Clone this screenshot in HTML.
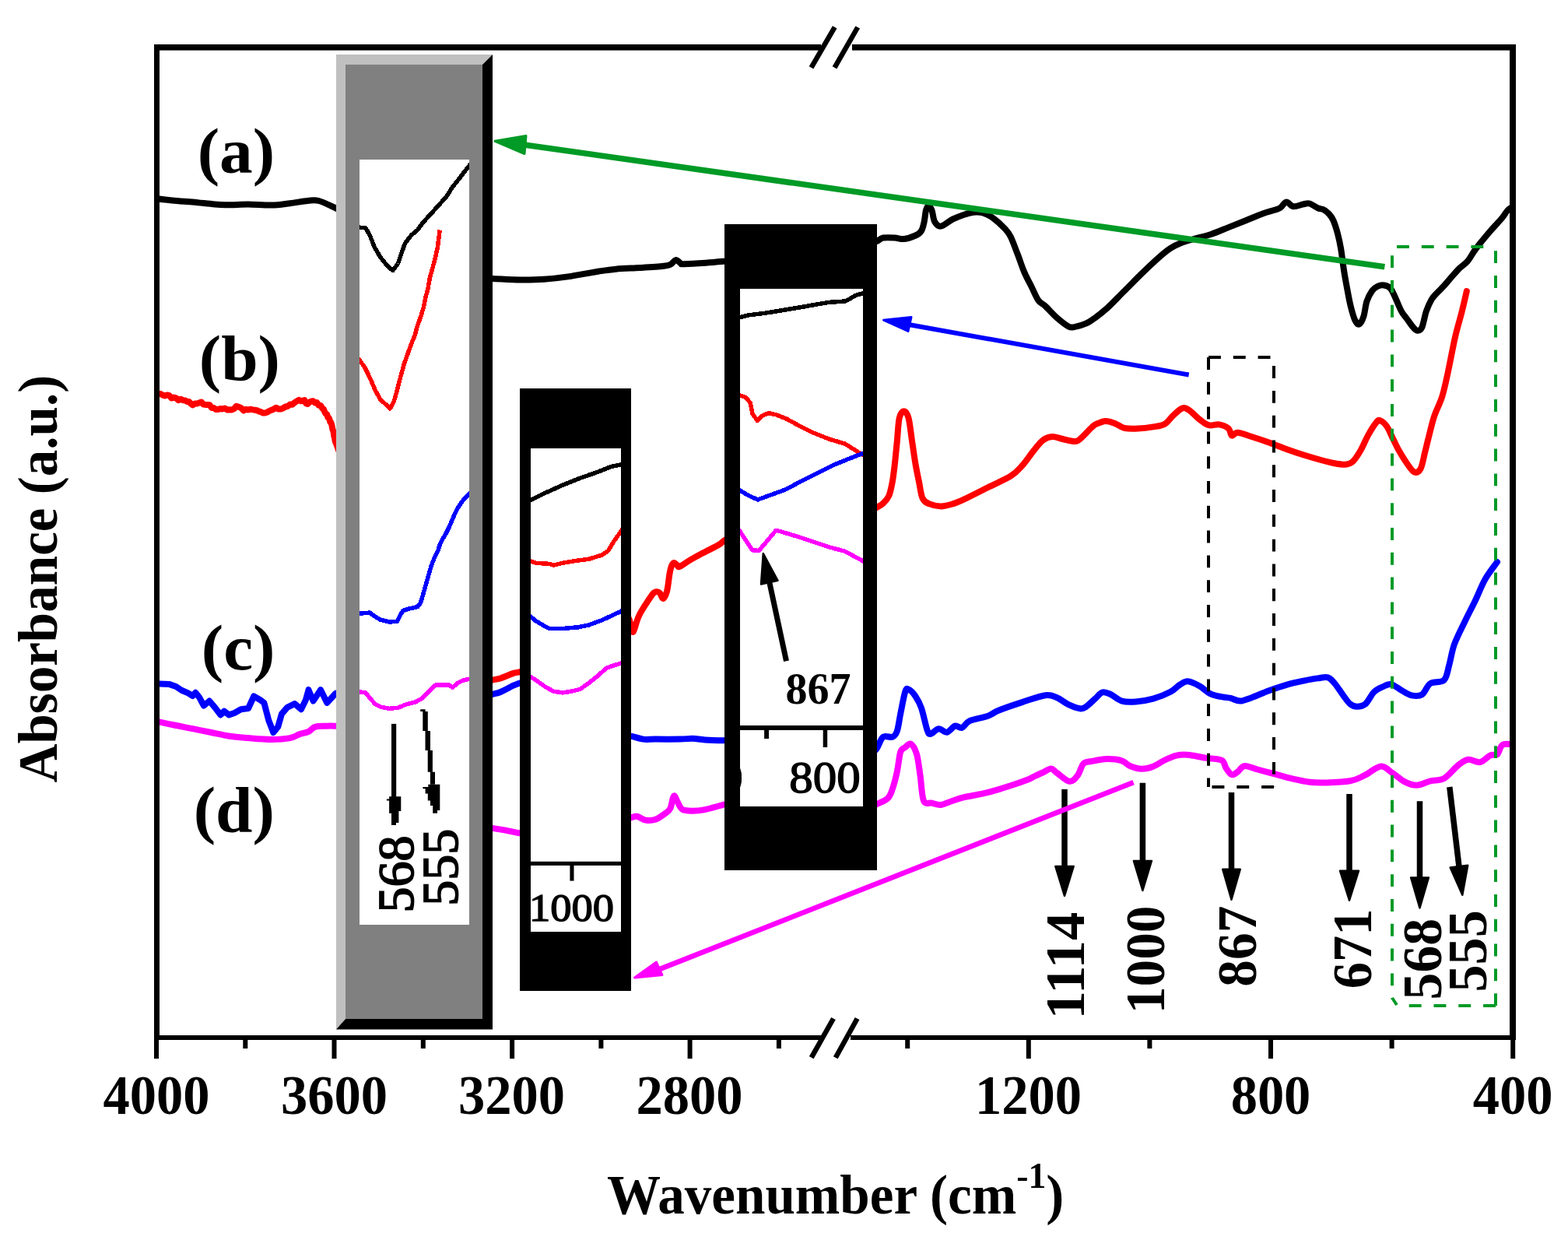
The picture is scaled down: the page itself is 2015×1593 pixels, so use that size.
<!DOCTYPE html><html><head><meta charset="utf-8"><title>FTIR spectra</title><style>html,body{margin:0;padding:0;background:#fff;overflow:hidden}svg{display:block}</style></head><body>
<svg width="2015" height="1593" viewBox="0 0 2015 1593">
<defs>
<clipPath id="cg"><rect x="462" y="205" width="141" height="983"/></clipPath>
<clipPath id="c2"><rect x="682" y="576" width="116" height="621"/></clipPath>
<clipPath id="c3"><rect x="951" y="371" width="158" height="665"/></clipPath>
<clipPath id="cp"><rect x="205" y="65" width="1735" height="1265"/></clipPath>
</defs>
<rect width="2015" height="1593" fill="#fff"/>
<g clip-path="url(#cp)">
<path d="M203.0,255.3 C204.5,255.5 207.5,256.0 212.0,256.5 C216.5,257.0 223.1,257.6 229.8,258.2 C236.5,258.8 244.7,259.3 252.4,260.0 C260.1,260.7 268.1,261.8 276.2,262.4 C284.3,262.9 293.9,263.3 301.0,263.3 C308.1,263.3 311.0,262.3 319.0,262.4 C327.0,262.4 339.9,263.8 348.9,263.6 C357.8,263.4 365.0,262.1 372.7,261.2 C380.4,260.3 389.1,258.5 395.3,258.0 C401.5,257.5 403.5,256.4 409.6,258.0 C415.7,259.6 426.6,265.2 431.7,267.5 C436.8,269.8 438.6,271.2 440.0,272.0" fill="none" stroke="#000000" stroke-width="8" stroke-linejoin="round" stroke-linecap="round"/>
<path d="M625.0,358.0 C626.3,358.0 625.8,357.8 633.0,358.0 C640.2,358.2 657.5,359.4 668.5,359.5 C679.5,359.6 688.8,359.5 699.0,358.8 C709.2,358.1 718.4,357.1 730.0,355.4 C741.6,353.7 758.2,350.4 768.5,348.8 C778.8,347.2 782.6,346.5 791.5,345.7 C800.4,344.9 811.8,344.6 822.0,344.0 C832.2,343.4 846.3,342.6 853.0,341.8 C859.7,341.1 859.4,340.8 862.0,339.5 C864.6,338.2 866.3,334.2 868.5,334.0 C870.7,333.8 873.2,337.6 875.0,338.5 C876.8,339.4 873.7,339.3 879.0,339.2 C884.3,339.1 898.4,338.3 907.0,337.7 C915.6,337.1 925.3,336.2 930.8,335.7 C936.3,335.2 938.5,334.7 940.0,334.5" fill="none" stroke="#000000" stroke-width="8" stroke-linejoin="round" stroke-linecap="round"/>
<path d="M1120.0,311.0 C1121.1,310.8 1124.2,310.9 1126.7,310.0 C1129.2,309.1 1131.1,306.2 1134.9,305.5 C1138.8,304.8 1145.3,305.2 1149.8,305.5 C1154.3,305.8 1157.2,307.5 1161.7,307.0 C1166.2,306.5 1172.9,304.2 1176.6,302.5 C1180.3,300.8 1182.2,299.6 1184.0,296.6 C1185.8,293.6 1186.7,289.2 1187.7,284.7 C1188.7,280.2 1189.1,273.0 1190.0,269.8 C1190.9,266.6 1191.8,265.3 1193.0,265.3 C1194.2,265.3 1196.1,266.6 1197.4,269.8 C1198.8,273.0 1199.1,281.2 1201.1,284.7 C1203.1,288.2 1205.4,291.1 1209.3,290.6 C1213.2,290.1 1219.2,284.2 1224.2,281.7 C1229.2,279.2 1234.6,277.2 1239.1,275.7 C1243.6,274.2 1247.0,273.2 1251.0,272.8 C1255.0,272.4 1258.7,272.3 1262.9,273.5 C1267.1,274.7 1271.6,276.8 1276.3,280.2 C1281.0,283.6 1287.5,289.6 1291.2,293.6 C1294.9,297.6 1296.0,298.6 1298.7,304.0 C1301.4,309.4 1304.6,318.6 1307.6,326.3 C1310.6,334.0 1313.5,343.2 1316.5,350.2 C1319.5,357.1 1322.4,362.1 1325.4,368.0 C1328.4,373.9 1331.4,381.7 1334.4,385.9 C1337.4,390.1 1339.3,389.6 1343.3,393.3 C1347.3,397.0 1353.2,403.9 1358.2,408.2 C1363.2,412.5 1369.4,417.4 1373.1,419.4 C1376.8,421.4 1376.8,420.7 1380.5,420.1 C1384.2,419.5 1390.9,417.7 1395.4,415.7 C1399.9,413.7 1402.9,411.4 1407.4,408.2 C1411.9,405.0 1416.1,402.0 1422.3,396.3 C1428.5,390.6 1437.2,381.4 1444.7,374.0 C1452.2,366.6 1459.6,358.9 1467.0,351.7 C1474.4,344.5 1483.1,336.3 1489.3,330.8 C1495.5,325.3 1499.2,322.1 1504.2,318.9 C1509.2,315.7 1514.1,313.5 1519.1,311.5 C1524.1,309.5 1527.8,308.8 1534.0,307.0 C1540.2,305.2 1548.8,303.5 1556.3,301.0 C1563.8,298.5 1571.2,295.1 1578.7,292.1 C1586.2,289.1 1593.6,286.2 1601.0,283.2 C1608.4,280.2 1617.1,276.4 1623.3,274.2 C1629.5,272.0 1634.5,271.0 1638.2,269.8 C1641.9,268.6 1643.1,268.5 1645.6,266.8 C1648.1,265.1 1650.4,259.6 1653.1,259.4 C1655.8,259.1 1658.3,264.8 1662.0,265.3 C1665.7,265.8 1671.9,262.9 1675.4,262.3 C1678.9,261.7 1679.8,260.6 1682.9,261.5 C1686.0,262.4 1690.9,266.2 1693.9,267.5 C1696.9,268.8 1698.5,268.0 1700.8,269.2 C1703.1,270.4 1705.7,272.4 1707.8,274.7 C1709.9,277.0 1711.6,278.9 1713.4,283.1 C1715.2,287.3 1717.3,293.8 1718.9,299.8 C1720.5,305.8 1721.7,311.1 1723.1,319.2 C1724.5,327.3 1725.8,339.6 1727.2,348.4 C1728.6,357.2 1730.0,364.6 1731.4,372.0 C1732.8,379.4 1734.0,386.4 1735.6,392.9 C1737.2,399.4 1739.2,407.0 1741.1,410.9 C1742.9,414.8 1744.8,417.2 1746.7,416.5 C1748.6,415.8 1750.7,411.7 1752.3,406.8 C1753.9,401.9 1754.6,392.9 1756.4,387.3 C1758.2,381.7 1761.1,376.6 1763.4,373.4 C1765.7,370.1 1767.8,368.9 1770.3,367.8 C1772.8,366.7 1775.9,366.0 1778.7,366.5 C1781.5,367.0 1784.5,367.6 1787.0,370.6 C1789.5,373.6 1791.7,379.6 1794.0,384.5 C1796.3,389.4 1798.6,395.6 1800.9,399.8 C1803.2,404.0 1805.4,406.0 1807.9,409.5 C1810.5,413.0 1813.9,418.1 1816.2,420.7 C1818.5,423.2 1819.9,424.8 1821.7,424.8 C1823.5,424.8 1825.4,424.9 1827.3,420.7 C1829.2,416.5 1830.8,405.8 1832.9,399.8 C1835.0,393.8 1837.5,388.4 1839.8,384.5 C1842.1,380.6 1844.2,379.0 1846.8,376.2 C1849.3,373.4 1852.3,370.8 1855.1,367.8 C1857.9,364.8 1860.2,361.8 1863.4,358.1 C1866.7,354.4 1870.9,349.3 1874.6,345.6 C1878.3,341.9 1882.5,339.6 1885.7,335.9 C1888.9,332.2 1891.2,327.3 1894.0,323.4 C1896.8,319.5 1898.6,316.9 1902.3,312.3 C1906.0,307.7 1911.6,300.9 1916.2,295.6 C1920.8,290.3 1926.6,284.5 1930.1,280.3 C1933.6,276.1 1934.8,273.1 1937.1,270.6 C1939.4,268.1 1942.8,266.4 1944.0,265.5" fill="none" stroke="#000000" stroke-width="8" stroke-linejoin="round" stroke-linecap="round"/>
<path d="M201.2,504.2 L203.9,505.9 L206.6,506.1 L209.2,507.6 L211.9,508.4 L214.8,507.5 L217.6,508.2 L220.5,511.5 L223.3,510.6 L226.2,511.4 L229.4,514.1 L232.5,512.8 L235.7,514.3 L238.1,514.4 L240.5,516.1 L242.8,515.9 L245.2,518.5 L247.6,520.4 L250.4,518.6 L253.2,518.4 L256.0,517.4 L258.7,516.5 L261.4,519.5 L264.0,519.9 L266.7,519.9 L269.4,520.3 L272.0,524.0 L274.7,524.0 L277.4,526.0 L280.2,526.0 L283.0,525.1 L285.8,525.4 L289.0,524.6 L292.1,526.5 L295.3,526.2 L298.1,526.5 L300.8,525.2 L303.6,521.7 L306.8,522.8 L309.9,524.1 L313.1,527.3 L316.1,525.8 L319.1,526.5 L322.0,525.7 L325.0,526.4 L327.6,526.7 L330.2,527.2 L332.8,528.5 L335.3,529.1 L337.9,530.6 L340.5,530.5 L343.3,529.7 L346.1,527.9 L348.9,526.8 L351.9,525.5 L354.9,523.7 L357.8,525.5 L360.8,525.5 L363.8,524.4 L366.8,522.5 L369.7,522.0 L372.7,519.6 L375.7,519.7 L378.7,517.1 L381.4,515.4 L384.0,513.8 L386.7,515.3 L389.4,514.8 L391.4,514.1 L393.3,518.2 L395.3,519.0 L397.7,516.7 L400.1,515.5 L402.5,515.3 L404.9,517.6 L407.2,517.1 L409.6,520.8 L412.0,520.9 L414.4,524.8 L415.9,525.7 L417.4,529.4 L418.8,531.8 L420.3,532.4 L421.3,536.3 L422.3,536.6 L423.3,538.3 L424.3,542.2 L425.3,542.9 L426.3,545.8 L426.9,548.9 L427.5,552.1 L428.1,553.2 L428.7,555.4 L429.3,560.4 L429.9,561.2 L430.5,565.7 L431.1,568.0 L431.7,568.9 L432.8,572.0 L433.9,575.0 L434.9,578.1 L436.0,580.5" fill="none" stroke="#ff0000" stroke-width="8" stroke-linejoin="round" stroke-linecap="round"/>
<path d="M625.0,876.0 C626.3,875.6 629.6,874.4 632.7,873.6 C635.8,872.8 639.3,872.7 643.8,871.2 C648.3,869.8 655.7,866.2 659.7,864.9 C663.7,863.6 665.1,864.1 667.6,863.3 C670.1,862.5 673.8,860.5 675.0,860.0" fill="none" stroke="#ff0000" stroke-width="8" stroke-linejoin="round" stroke-linecap="round"/>
<path d="M806.0,790.0 C806.5,791.2 808.1,794.2 809.0,797.0 C809.9,799.8 810.8,804.0 811.5,806.5 C812.2,809.0 812.6,811.6 813.2,812.0 C813.8,812.4 814.3,810.7 815.0,809.0 C815.7,807.3 816.2,805.0 817.2,802.0 C818.2,799.0 819.2,794.9 821.3,790.7 C823.3,786.5 826.5,781.5 829.5,776.8 C832.5,772.1 836.8,765.3 839.3,762.5 C841.8,759.7 842.8,760.3 844.2,760.2 C845.7,760.1 846.6,760.5 848.0,762.0 C849.4,763.5 850.8,769.5 852.3,769.0 C853.8,768.5 855.8,764.3 857.2,759.0 C858.6,753.7 859.5,742.3 860.5,737.0 C861.5,731.7 862.0,729.4 863.0,727.0 C864.0,724.6 865.0,723.0 866.2,722.9 C867.4,722.8 869.1,725.3 870.3,726.1 C871.5,726.9 870.9,728.9 873.6,727.8 C876.3,726.7 881.7,722.5 886.6,719.6 C891.5,716.7 896.9,713.9 903.0,710.6 C909.1,707.3 918.8,702.7 923.4,700.0 C928.0,697.3 927.7,696.3 930.5,694.5 C933.3,692.7 938.4,689.9 940.0,689.0" fill="none" stroke="#ff0000" stroke-width="8" stroke-linejoin="round" stroke-linecap="round"/>
<path d="M1120.0,656.0 C1121.1,655.3 1124.2,653.5 1126.7,651.9 C1129.2,650.3 1132.3,649.1 1134.9,646.6 C1137.5,644.1 1140.3,641.6 1142.3,637.0 C1144.3,632.4 1145.5,625.8 1146.8,619.1 C1148.0,612.4 1148.8,605.5 1149.8,596.8 C1150.8,588.1 1151.8,576.9 1152.8,567.0 C1153.8,557.1 1154.2,543.7 1155.7,537.2 C1157.2,530.8 1159.7,528.3 1161.7,528.3 C1163.7,528.3 1165.9,530.8 1167.6,537.2 C1169.3,543.7 1170.6,557.1 1172.1,567.0 C1173.6,576.9 1175.1,588.1 1176.6,596.8 C1178.1,605.5 1179.5,611.9 1181.0,619.1 C1182.5,626.3 1183.3,635.3 1185.5,640.0 C1187.7,644.7 1190.4,645.7 1194.4,647.4 C1198.4,649.1 1204.3,650.4 1209.3,650.4 C1214.3,650.4 1219.2,648.9 1224.2,647.4 C1229.2,645.9 1231.6,644.9 1239.1,641.4 C1246.5,637.9 1259.0,631.5 1268.9,626.5 C1278.8,621.5 1291.3,616.4 1298.7,611.7 C1306.1,607.0 1308.5,603.8 1313.5,598.3 C1318.5,592.8 1323.9,584.4 1328.4,578.9 C1332.9,573.4 1336.3,568.5 1340.3,565.5 C1344.3,562.5 1348.0,561.2 1352.2,561.0 C1356.4,560.8 1360.9,563.0 1365.6,564.0 C1370.3,565.0 1376.8,567.0 1380.5,567.0 C1384.2,567.0 1384.3,567.0 1388.0,564.0 C1391.7,561.0 1399.4,552.3 1402.9,549.1 C1406.4,545.9 1405.9,546.1 1408.9,544.7 C1411.9,543.3 1416.8,541.0 1420.8,540.9 C1424.8,540.8 1428.8,542.4 1432.8,543.9 C1436.8,545.4 1439.8,548.8 1444.7,549.9 C1449.7,551.0 1456.3,550.9 1462.5,550.6 C1468.7,550.4 1476.2,549.4 1481.9,548.4 C1487.6,547.4 1492.6,547.1 1496.8,544.7 C1501.0,542.3 1503.5,537.6 1507.2,534.2 C1510.9,530.9 1515.6,525.8 1519.1,524.6 C1522.6,523.4 1524.3,524.4 1528.0,526.8 C1531.7,529.1 1537.2,535.5 1541.4,538.7 C1545.6,541.9 1549.1,545.1 1553.3,546.2 C1557.5,547.3 1562.5,544.7 1566.7,545.4 C1570.9,546.1 1576.0,548.2 1578.7,550.6 C1581.4,553.0 1581.1,558.7 1583.1,559.6 C1585.1,560.5 1586.4,555.6 1590.6,555.8 C1594.8,556.0 1601.7,558.9 1608.4,561.0 C1615.1,563.1 1623.3,565.8 1630.8,568.5 C1638.2,571.2 1645.7,574.3 1653.1,577.0 C1660.5,579.7 1668.0,582.2 1675.4,584.5 C1682.8,586.8 1691.0,589.2 1697.6,591.0 C1704.2,592.8 1709.9,594.3 1715.2,595.3 C1720.5,596.3 1725.4,597.1 1729.2,596.8 C1733.0,596.4 1735.1,596.1 1738.2,593.2 C1741.3,590.3 1744.7,585.1 1748.0,579.5 C1751.3,573.9 1754.7,565.4 1758.0,559.4 C1761.3,553.4 1765.5,546.7 1768.0,543.5 C1770.5,540.3 1770.7,539.3 1773.0,540.0 C1775.3,540.7 1779.2,543.6 1782.0,547.5 C1784.8,551.4 1787.3,558.1 1790.0,563.4 C1792.7,568.7 1795.0,574.0 1798.0,579.3 C1801.0,584.6 1804.8,590.7 1808.0,595.2 C1811.2,599.7 1814.5,605.4 1817.5,606.5 C1820.5,607.6 1823.4,606.5 1825.7,602.0 C1828.0,597.5 1829.6,587.1 1831.6,579.3 C1833.6,571.5 1835.5,563.0 1837.5,555.4 C1839.5,547.8 1840.8,541.3 1843.5,533.6 C1846.2,525.9 1850.5,518.4 1853.4,509.0 C1856.3,499.6 1858.3,489.5 1861.0,477.0 C1863.7,464.5 1866.9,446.6 1869.8,433.8 C1872.7,421.0 1876.1,410.3 1878.6,400.4 C1881.1,390.4 1883.8,378.5 1884.8,374.1" fill="none" stroke="#ff0000" stroke-width="8" stroke-linejoin="round" stroke-linecap="round"/>
<path d="M205.0,878.5 L217.9,879.1 L226.2,882.0 L233.3,886.8 L241.7,890.4 L247.6,894.0 L251.2,889.8 L256.0,895.7 L261.9,906.5 L269.1,900.5 L276.2,908.8 L283.4,918.4 L288.1,913.6 L294.1,918.4 L301.2,916.0 L309.6,911.2 L319.1,910.0 L326.2,894.5 L334.6,899.3 L339.4,902.9 L345.3,925.5 L351.3,941.0 L357.2,933.8 L362.0,917.2 L369.1,908.8 L378.7,904.1 L387.0,911.2 L392.9,899.3 L396.5,886.2 L402.5,900.5 L412.0,886.2 L420.3,902.9 L431.1,891.0 L436.0,889.0" fill="none" stroke="#0000ff" stroke-width="8" stroke-linejoin="round" stroke-linecap="round"/>
<path d="M625.0,894.0 C626.3,893.6 629.6,892.8 632.7,891.9 C635.8,891.0 639.3,890.6 643.8,888.7 C648.3,886.8 655.7,882.6 659.7,880.7 C663.7,878.9 665.1,878.6 667.6,877.6 C670.1,876.6 673.8,875.4 675.0,875.0" fill="none" stroke="#0000ff" stroke-width="8" stroke-linejoin="round" stroke-linecap="round"/>
<path d="M805.0,946.0 C805.9,945.9 807.0,945.0 810.6,945.6 C814.2,946.2 821.1,948.9 826.4,949.6 C831.7,950.3 834.3,949.6 842.3,949.6 C850.2,949.6 866.1,949.7 874.1,949.6 C882.1,949.5 884.7,948.7 890.0,948.8 C895.3,948.9 899.1,950.0 905.9,950.4 C912.6,950.8 924.8,951.1 930.5,951.2 C936.2,951.3 938.4,951.0 940.0,951.0" fill="none" stroke="#0000ff" stroke-width="8" stroke-linejoin="round" stroke-linecap="round"/>
<path d="M1120.0,968.0 C1121.1,967.0 1124.2,965.2 1126.7,961.7 C1129.2,958.2 1131.6,949.3 1134.9,946.8 C1138.2,944.3 1143.8,948.0 1146.8,946.8 C1149.8,945.5 1151.1,944.3 1152.8,939.3 C1154.5,934.3 1155.5,925.4 1157.2,917.0 C1158.9,908.6 1161.5,893.9 1163.2,888.7 C1164.9,883.5 1165.4,884.7 1167.6,885.7 C1169.8,886.7 1173.9,890.7 1176.6,894.7 C1179.3,898.7 1181.5,902.3 1184.0,909.5 C1186.5,916.7 1189.5,932.2 1191.5,937.8 C1193.5,943.4 1193.4,943.2 1195.9,943.0 C1198.4,942.8 1202.8,936.7 1206.3,936.3 C1209.8,935.9 1213.3,941.4 1216.8,940.8 C1220.3,940.2 1224.0,933.6 1227.2,932.6 C1230.4,931.6 1232.9,936.0 1236.1,934.9 C1239.3,933.8 1241.0,928.4 1246.5,925.9 C1252.0,923.4 1262.7,922.2 1268.9,920.0 C1275.1,917.8 1276.4,915.5 1283.8,912.5 C1291.2,909.5 1303.6,905.3 1313.5,902.1 C1323.4,898.9 1335.8,894.2 1343.3,893.2 C1350.8,892.2 1353.2,894.2 1358.2,896.2 C1363.2,898.2 1368.1,902.8 1373.1,905.1 C1378.1,907.5 1384.3,909.8 1388.0,910.3 C1391.7,910.8 1392.2,910.2 1395.4,908.1 C1398.6,906.0 1403.9,900.7 1407.4,897.6 C1410.9,894.5 1413.2,890.5 1416.4,889.5 C1419.6,888.5 1422.6,889.9 1426.8,891.7 C1431.0,893.6 1436.2,899.0 1441.7,900.6 C1447.2,902.2 1452.9,901.9 1459.6,901.4 C1466.3,900.9 1474.5,899.7 1481.9,897.6 C1489.3,895.5 1498.5,891.7 1504.2,888.7 C1509.9,885.7 1512.4,882.0 1516.1,879.8 C1519.8,877.6 1522.3,875.0 1526.5,875.3 C1530.7,875.5 1536.4,878.6 1541.4,881.3 C1546.4,884.0 1551.3,889.4 1556.3,891.7 C1561.3,894.1 1567.0,894.5 1571.2,895.4 C1575.4,896.3 1577.9,896.0 1581.6,896.9 C1585.3,897.8 1589.0,900.7 1593.5,900.6 C1598.0,900.5 1602.2,898.4 1608.4,896.2 C1614.6,894.0 1623.3,889.9 1630.8,887.2 C1638.2,884.5 1645.7,881.9 1653.1,879.8 C1660.5,877.7 1668.7,876.0 1675.4,874.6 C1682.1,873.2 1688.0,872.1 1693.2,871.4 C1698.4,870.7 1702.7,869.2 1706.4,870.3 C1710.1,871.4 1711.9,874.1 1715.2,878.0 C1718.5,881.9 1722.9,889.0 1726.2,893.4 C1729.5,897.8 1732.1,902.0 1735.0,904.4 C1737.9,906.8 1740.4,907.7 1743.7,907.7 C1747.0,907.7 1751.0,907.5 1754.7,904.4 C1758.4,901.3 1762.0,892.7 1765.7,889.0 C1769.4,885.3 1773.0,884.0 1776.7,882.4 C1780.4,880.8 1783.7,878.4 1787.7,879.1 C1791.7,879.8 1796.5,884.4 1800.9,886.8 C1805.3,889.2 1809.7,892.5 1814.1,893.4 C1818.5,894.3 1823.3,894.9 1827.3,892.3 C1831.3,889.7 1833.5,881.1 1838.2,878.0 C1843.0,874.9 1851.8,877.6 1855.8,873.6 C1859.8,869.6 1860.2,861.5 1862.4,853.8 C1864.6,846.1 1865.7,836.6 1869.0,827.5 C1872.3,818.4 1877.8,808.1 1882.2,798.9 C1886.6,789.7 1891.0,781.6 1895.4,772.5 C1899.8,763.4 1903.8,752.4 1908.6,744.0 C1913.4,735.6 1921.4,725.7 1924.0,722.0" fill="none" stroke="#0000ff" stroke-width="8" stroke-linejoin="round" stroke-linecap="round"/>
<path d="M201.2,926.7 C205.0,927.5 216.1,929.9 223.8,931.5 C231.5,933.1 239.7,934.6 247.6,936.2 C255.5,937.8 263.6,939.4 271.5,941.0 C279.4,942.6 287.4,944.6 295.3,945.8 C303.2,947.0 310.2,947.4 319.1,948.1 C328.0,948.8 340.0,949.9 348.9,949.9 C357.8,949.9 366.8,949.2 372.7,948.1 C378.6,947.0 380.6,944.8 384.6,943.4 C388.6,942.0 393.1,941.4 396.5,939.8 C399.9,938.2 400.9,935.0 404.9,933.8 C408.9,932.6 415.8,932.9 420.3,932.7 C424.8,932.5 429.1,932.7 431.7,932.7 C434.3,932.7 435.3,932.7 436.0,932.7" fill="none" stroke="#ff00ff" stroke-width="8" stroke-linejoin="round" stroke-linecap="round"/>
<path d="M625.0,1063.0 C626.3,1063.2 628.2,1063.2 632.7,1063.9 C637.2,1064.6 646.0,1066.0 651.8,1067.1 C657.6,1068.2 663.7,1069.6 667.6,1070.3 C671.5,1071.0 673.8,1070.9 675.0,1071.0" fill="none" stroke="#ff00ff" stroke-width="8" stroke-linejoin="round" stroke-linecap="round"/>
<path d="M805.0,1051.0 C805.9,1050.9 808.4,1050.8 810.6,1050.4 C812.9,1050.0 815.3,1048.3 818.5,1048.8 C821.7,1049.3 825.6,1052.9 829.6,1053.6 C833.6,1054.3 838.1,1054.2 842.3,1052.8 C846.5,1051.3 851.8,1047.3 855.0,1044.9 C858.2,1042.5 859.8,1041.7 861.4,1038.5 C863.0,1035.3 863.7,1028.5 864.6,1025.8 C865.5,1023.1 866.0,1021.8 867.0,1022.6 C868.0,1023.4 869.2,1027.7 870.9,1030.6 C872.6,1033.5 874.1,1038.2 877.3,1040.1 C880.5,1041.9 885.2,1041.7 890.0,1041.7 C894.8,1041.7 899.1,1041.4 905.9,1040.1 C912.6,1038.8 924.8,1035.0 930.5,1033.7 C936.2,1032.4 938.4,1032.3 940.0,1032.0" fill="none" stroke="#ff00ff" stroke-width="8" stroke-linejoin="round" stroke-linecap="round"/>
<path d="M1120.0,1036.0 C1121.1,1035.5 1123.2,1034.8 1126.7,1033.1 C1130.2,1031.4 1137.5,1028.9 1140.8,1025.7 C1144.1,1022.5 1144.8,1019.5 1146.8,1013.8 C1148.8,1008.1 1151.1,999.3 1152.8,991.4 C1154.5,983.5 1155.5,971.3 1157.2,966.1 C1158.9,960.9 1161.0,961.9 1163.2,960.2 C1165.4,958.5 1168.1,954.2 1170.6,955.7 C1173.1,957.2 1176.1,962.4 1178.1,969.1 C1180.1,975.8 1181.0,986.0 1182.5,995.9 C1184.0,1005.8 1184.5,1022.8 1187.0,1028.7 C1189.5,1034.7 1193.7,1030.7 1197.4,1031.6 C1201.1,1032.5 1204.8,1034.4 1209.3,1033.9 C1213.8,1033.4 1219.2,1030.3 1224.2,1028.7 C1229.2,1027.1 1231.6,1026.0 1239.1,1024.2 C1246.5,1022.5 1259.0,1020.7 1268.9,1018.2 C1278.8,1015.7 1290.0,1012.1 1298.7,1009.3 C1307.4,1006.5 1315.8,1003.5 1321.0,1001.5 C1326.2,999.5 1326.8,998.5 1330.0,997.0 C1333.2,995.5 1336.5,994.1 1340.0,992.5 C1343.5,990.9 1347.8,987.4 1350.8,987.5 C1353.8,987.6 1354.2,990.2 1358.2,992.9 C1362.2,995.6 1370.0,1003.3 1374.5,1003.8 C1379.0,1004.3 1382.0,999.7 1385.0,995.9 C1388.0,992.1 1389.4,984.0 1392.4,981.0 C1395.4,978.0 1397.9,979.0 1402.9,978.0 C1407.9,977.0 1415.8,975.2 1422.3,975.1 C1428.8,975.0 1436.7,975.8 1441.7,977.3 C1446.7,978.8 1447.9,982.3 1452.1,984.0 C1456.3,985.7 1462.0,987.6 1467.0,987.7 C1472.0,987.8 1476.9,986.6 1481.9,984.7 C1486.9,982.8 1491.8,978.9 1496.8,976.5 C1501.8,974.1 1506.8,971.7 1511.7,970.6 C1516.7,969.5 1520.3,969.3 1526.5,969.8 C1532.7,970.3 1541.7,972.5 1548.9,973.6 C1556.1,974.7 1565.2,974.3 1569.7,976.5 C1574.2,978.7 1573.5,983.9 1575.7,987.0 C1577.9,990.1 1580.6,994.5 1583.1,995.2 C1585.6,995.9 1587.9,993.3 1590.6,991.4 C1593.3,989.5 1595.3,984.5 1599.5,984.0 C1603.7,983.5 1609.5,986.8 1615.9,988.5 C1622.4,990.2 1630.8,992.4 1638.2,994.4 C1645.6,996.4 1653.0,998.7 1660.5,1000.4 C1668.0,1002.1 1676.0,1003.9 1682.9,1004.8 C1689.8,1005.6 1693.3,1005.8 1702.0,1005.5 C1710.7,1005.2 1726.5,1004.8 1734.9,1003.3 C1743.3,1001.8 1745.9,999.8 1752.5,996.7 C1759.1,993.6 1768.3,985.2 1774.5,984.6 C1780.7,984.0 1784.8,990.1 1789.9,993.4 C1795.0,996.7 1800.2,1001.8 1805.3,1004.4 C1810.4,1007.0 1815.2,1009.0 1820.7,1008.8 C1826.2,1008.6 1832.4,1004.8 1838.2,1003.3 C1844.0,1001.8 1849.9,1003.3 1855.8,1000.0 C1861.7,996.7 1868.3,987.5 1873.4,983.5 C1878.5,979.5 1881.8,976.5 1886.6,975.8 C1891.4,975.1 1897.2,980.0 1902.0,979.1 C1906.8,978.2 1911.5,971.9 1915.2,970.3 C1918.9,968.6 1921.5,971.4 1924.0,969.2 C1926.5,967.0 1927.6,959.3 1930.5,957.1 C1933.4,954.9 1939.7,956.2 1941.5,956.0" fill="none" stroke="#ff00ff" stroke-width="8" stroke-linejoin="round" stroke-linecap="round"/>
</g>
<polygon points="432,70 633,70 620,83 444,83 444,1309 432,1322.6" fill="#c0c0c0"/>
<rect x="444" y="83" width="176" height="1226" fill="#808080"/>
<polygon points="633,70 633,1322.6 432,1322.6 444,1309 620,1309 620,83" fill="#000"/>
<rect x="462" y="205" width="141" height="983" fill="#fff"/>
<g clip-path="url(#cg)">
<path d="M458.0,292.2 L462.0,292.2 L469.7,292.7 L475.3,302.3 L481.0,317.0 L488.9,330.6 L498.0,341.9 L504.7,347.5 L511.5,338.5 L516.0,324.9 L520.5,312.5 L528.4,302.3 L536.4,295.6 L543.1,286.5 L552.2,276.4 L563.5,263.9 L573.6,252.6 L581.6,240.2 L590.6,228.9 L597.4,219.9 L601.9,214.2 L606.0,209.0" fill="none" stroke="#000000" stroke-width="5.5" stroke-linejoin="round" stroke-linecap="butt" shape-rendering="crispEdges"/>
<path d="M458.0,457.0 L462.0,462.7 L468.6,471.7 L475.3,485.3 L482.1,501.1 L488.9,513.5 L497.9,521.4 L501.3,524.8 L505.8,516.9 L509.2,505.6 L512.6,492.0 L516.0,479.6 L519.4,467.2 L523.9,454.7 L528.4,442.3 L533.0,431.0 L536.4,418.6 L540.9,406.2 L544.3,394.9 L547.1,381.3 L549.9,371.3 L552.2,357.7 L555.6,345.3 L559.0,332.9 L562.3,318.0 L565.2,295.6" fill="none" stroke="#ff0000" stroke-width="5.5" stroke-linejoin="round" stroke-linecap="butt" shape-rendering="crispEdges"/>
<path d="M458.0,788.2 L462.0,788.2 L475.3,787.1 L481.0,791.6 L488.9,796.2 L500.2,799.0 L510.4,798.4 L514.0,790.9 L517.8,784.6 L525.3,782.1 L536.6,779.6 L540.4,774.6 L543.5,764.5 L546.7,753.2 L549.2,744.4 L551.7,735.6 L554.2,726.8 L556.7,720.6 L559.2,714.3 L563.0,706.8 L565.5,699.2 L569.3,691.7 L573.1,685.4 L576.8,677.9 L580.6,669.1 L584.4,660.3 L588.1,652.7 L593.1,645.2 L600.7,636.4 L606.0,631.0" fill="none" stroke="#0000ff" stroke-width="5.5" stroke-linejoin="round" stroke-linecap="butt" shape-rendering="crispEdges"/>
<path d="M458.0,888.8 L462.0,888.8 L469.7,889.9 L475.3,896.7 L482.1,904.6 L488.9,908.0 L500.2,910.3 L511.5,909.2 L522.8,904.6 L534.1,901.8 L543.1,896.7 L551.0,888.8 L560.1,879.8 L577.0,879.8 L581.6,883.2 L588.3,877.5 L596.2,873.6 L603.0,872.4 L606.0,872.0" fill="none" stroke="#ff00ff" stroke-width="5.5" stroke-linejoin="round" stroke-linecap="butt" shape-rendering="crispEdges"/>
</g>
<rect x="503" y="929.9" width="6.2" height="94" fill="#000"/>
<polygon points="496.9,1026.5 500.1,1026.5 500.1,1023.3 515.3,1023.3 515.3,1042 512.4,1042 512.4,1056.9 509,1056.9 509,1060.1 503,1060.1 503,1044.7 500.1,1044.7 500.1,1028.6 496.9,1028.6" fill="#000"/>
<path d="M540.2,911.2h6.4v2.7h3.2v25.1h3.2v25h2.9v27.8h3.1v16h-6.1v-16h-3.2v-27.8h-3.2v-25h-3.2v-25.1h-3.1z" fill="#000"/>
<polygon points="543.4,1011 543.4,1013.2 546.6,1013.2 546.6,1019.6 549.8,1019.6 549.8,1028.6 553,1028.6 553,1035 556.2,1035 556.2,1044.7 562,1044.7 562,1040.9 565.3,1040.9 565.3,1007.8 550.3,1007.8 550.3,1011" fill="#000"/>
<text transform="translate(531.1,1172.6) rotate(-90)" font-family="Liberation Serif, Times New Roman, serif" font-weight="normal" font-size="66" text-anchor="start" stroke="#000" stroke-width="1.8">568</text>
<text transform="translate(587.5,1163.8) rotate(-90)" font-family="Liberation Serif, Times New Roman, serif" font-weight="normal" font-size="66" text-anchor="start" stroke="#000" stroke-width="1.8">555</text>
<rect x="668" y="499" width="143" height="774" fill="#000"/>
<rect x="682" y="576" width="116" height="621" fill="#fff"/>
<g clip-path="url(#c2)">
<path d="M678.0,644.5 L681.9,642.5 L700.2,633.5 L722.8,623.3 L745.4,614.3 L768.0,606.4 L785.0,599.6 L798.0,596.8 L802.0,595.5" fill="none" stroke="#000000" stroke-width="5.5" stroke-linejoin="round" stroke-linecap="butt" shape-rendering="crispEdges"/>
<path d="M678.0,720.0 L681.9,721.0 L688.9,723.3 L705.8,724.4 L711.5,726.1 L722.8,723.3 L739.7,720.5 L756.7,718.2 L773.6,713.1 L781.6,707.5 L788.3,696.2 L798.0,682.6 L802.0,676.0" fill="none" stroke="#ff0000" stroke-width="5.5" stroke-linejoin="round" stroke-linecap="butt" shape-rendering="crispEdges"/>
<path d="M678.0,789.0 L681.9,792.2 L688.9,797.9 L700.2,804.6 L705.8,807.5 L722.8,807.5 L743.1,805.8 L756.7,802.9 L773.6,796.7 L790.6,788.8 L798.0,785.4 L802.0,783.0" fill="none" stroke="#0000ff" stroke-width="5.5" stroke-linejoin="round" stroke-linecap="butt" shape-rendering="crispEdges"/>
<path d="M678.0,867.0 L681.9,869.5 L688.9,874.0 L700.2,882.0 L711.5,888.2 L722.8,889.9 L734.1,888.2 L745.4,885.4 L756.7,877.5 L768.0,868.4 L779.3,858.2 L790.6,854.3 L798.0,852.0 L802.0,851.0" fill="none" stroke="#ff00ff" stroke-width="5.5" stroke-linejoin="round" stroke-linecap="butt" shape-rendering="crispEdges"/>
<rect x="682" y="1106.8" width="116" height="5.1" fill="#000"/>
<rect x="732.4" y="1111" width="5.1" height="20.6" fill="#000"/>
<text transform="translate(680.0,1183.0) scale(1.070,1)" font-family="Liberation Serif, Times New Roman, serif" font-weight="normal" font-size="51" text-anchor="start" stroke="#000" stroke-width="1.4">1000</text>
</g>
<rect x="931" y="288" width="196" height="830" fill="#000"/>
<rect x="951" y="371" width="158" height="665" fill="#fff"/>
<g clip-path="url(#c3)">
<path d="M947.0,408.5 L951.0,407.7 L961.4,405.0 L983.5,402.2 L1000.0,399.5 L1016.7,396.7 L1033.0,394.0 L1048.4,391.2 L1065.0,388.4 L1085.7,387.0 L1092.6,383.6 L1099.5,379.4 L1108.9,376.7 L1113.0,375.0" fill="none" stroke="#000000" stroke-width="5.5" stroke-linejoin="round" stroke-linecap="butt" shape-rendering="crispEdges"/>
<path d="M947.0,507.0 L951.0,508.0 L958.7,510.7 L964.2,517.6 L967.0,531.4 L973.2,540.4 L979.4,534.2 L987.7,530.7 L997.3,532.8 L1009.8,537.6 L1027.7,547.3 L1044.3,555.6 L1065.0,563.9 L1085.7,570.1 L1102.3,580.5 L1110.0,585.0" fill="none" stroke="#ff0000" stroke-width="5.5" stroke-linejoin="round" stroke-linecap="butt" shape-rendering="crispEdges"/>
<path d="M947.0,628.0 L951.0,630.2 L961.4,636.4 L973.9,641.9 L989.0,636.4 L1009.8,628.8 L1030.5,617.7 L1051.2,607.4 L1071.9,597.0 L1092.6,588.7 L1108.9,582.5 L1113.0,581.0" fill="none" stroke="#0000ff" stroke-width="5.5" stroke-linejoin="round" stroke-linecap="butt" shape-rendering="crispEdges"/>
<path d="M947.0,677.0 L951.0,682.7 L958.7,694.4 L967.0,706.8 L975.2,707.5 L986.3,694.4 L997.3,681.3 L1002.9,682.7 L1023.6,688.9 L1044.3,695.8 L1065.0,702.7 L1085.7,708.2 L1108.9,720.7 L1113.0,723.0" fill="none" stroke="#ff00ff" stroke-width="5.5" stroke-linejoin="round" stroke-linecap="butt" shape-rendering="crispEdges"/>
<rect x="951" y="932" width="158" height="6" fill="#000"/>
<rect x="982.1" y="937" width="5.9" height="12" fill="#000"/>
<rect x="1057.7" y="937" width="5.5" height="23" fill="#000"/>
<text transform="translate(1014.2,1017.5) scale(1.090,1)" font-family="Liberation Serif, Times New Roman, serif" font-weight="normal" font-size="56" text-anchor="start" stroke="#000" stroke-width="1.4">800</text>
<text transform="translate(863.5,1017.5) scale(1.090,1)" font-family="Liberation Serif, Times New Roman, serif" font-weight="normal" font-size="56" text-anchor="start" stroke="#000" stroke-width="0.8">900</text>
<line x1="1010.5" y1="849.2" x2="988.4" y2="746.2" stroke="#000000" stroke-width="7" stroke-linecap="butt"/><polygon points="999.5,745.8 980.8,711.0 978.0,750.5" fill="#000000" stroke="#000000" stroke-width="2.5" stroke-linejoin="round"/>
<text transform="translate(1009.5,903.5)" font-family="Liberation Serif, Times New Roman, serif" font-weight="bold" font-size="56" text-anchor="start">867</text>
</g>
<g fill="#000">
<rect x="198" y="57" width="7" height="1279"/>
<rect x="198" y="57" width="857" height="7.7"/>
<rect x="1095" y="57" width="853" height="7.7"/>
<rect x="1940" y="57" width="8" height="1277"/>
<rect x="198" y="1330" width="858" height="6"/>
<rect x="1093" y="1330" width="855" height="6"/>
<rect x="198.0" y="1333" width="6" height="27"/>
<rect x="312.3" y="1333" width="6" height="14"/>
<rect x="426.5" y="1333" width="6" height="27"/>
<rect x="540.8" y="1333" width="6" height="14"/>
<rect x="655.1" y="1333" width="6" height="27"/>
<rect x="769.4" y="1333" width="6" height="14"/>
<rect x="883.6" y="1333" width="6" height="27"/>
<rect x="997.9" y="1333" width="6" height="14"/>
<rect x="1163.2" y="1333" width="6" height="14"/>
<rect x="1318.8" y="1333" width="6" height="27"/>
<rect x="1474.4" y="1333" width="6" height="14"/>
<rect x="1630.0" y="1333" width="6" height="27"/>
<rect x="1785.6" y="1333" width="6" height="14"/>
<rect x="1941.2" y="1333" width="6" height="27"/>
</g>
<line x1="1042.5" y1="86.8" x2="1072.7" y2="34.9" stroke="#000" stroke-width="6.5"/>
<line x1="1072.5" y1="86.8" x2="1102.2" y2="35" stroke="#000" stroke-width="6.5"/>
<line x1="1042.7" y1="1358.6" x2="1071" y2="1308.5" stroke="#000" stroke-width="6.5"/>
<line x1="1073.8" y1="1358.8" x2="1101.6" y2="1308.5" stroke="#000" stroke-width="6.5"/>
<text transform="translate(201.0,1431.0) scale(0.965,1)" font-family="Liberation Serif, Times New Roman, serif" font-weight="bold" font-size="71" text-anchor="middle">4000</text>
<text transform="translate(429.5,1431.0) scale(0.965,1)" font-family="Liberation Serif, Times New Roman, serif" font-weight="bold" font-size="71" text-anchor="middle">3600</text>
<text transform="translate(657.5,1431.0) scale(0.965,1)" font-family="Liberation Serif, Times New Roman, serif" font-weight="bold" font-size="71" text-anchor="middle">3200</text>
<text transform="translate(886.0,1431.0) scale(0.965,1)" font-family="Liberation Serif, Times New Roman, serif" font-weight="bold" font-size="71" text-anchor="middle">2800</text>
<text transform="translate(1321.4,1431.0) scale(0.965,1)" font-family="Liberation Serif, Times New Roman, serif" font-weight="bold" font-size="71" text-anchor="middle">1200</text>
<text transform="translate(1633.0,1431.0) scale(0.965,1)" font-family="Liberation Serif, Times New Roman, serif" font-weight="bold" font-size="71" text-anchor="middle">800</text>
<text transform="translate(1944.2,1431.0) scale(0.965,1)" font-family="Liberation Serif, Times New Roman, serif" font-weight="bold" font-size="71" text-anchor="middle">400</text>
<text transform="translate(780.0,1558.5) scale(0.973,1)" font-family="Liberation Serif, Times New Roman, serif" font-weight="bold" font-size="71" text-anchor="start">Wavenumber (cm<tspan font-size="47" dy="-33">-1</tspan><tspan dy="33">)</tspan></text>
<text transform="translate(72.7,1005.5) rotate(-90) scale(0.973,1)" font-family="Liberation Serif, Times New Roman, serif" font-weight="bold" font-size="71" text-anchor="start">Absorbance (a.u.)</text>
<text transform="translate(253.7,222.0) scale(1.040,1)" font-family="Liberation Serif, Times New Roman, serif" font-weight="bold" font-size="82" text-anchor="start">(a)</text>
<text transform="translate(255.8,487.5) scale(1.040,1)" font-family="Liberation Serif, Times New Roman, serif" font-weight="bold" font-size="82" text-anchor="start">(b)</text>
<text transform="translate(258.8,859.5) scale(1.040,1)" font-family="Liberation Serif, Times New Roman, serif" font-weight="bold" font-size="82" text-anchor="start">(c)</text>
<text transform="translate(248.7,1067.5) scale(1.040,1)" font-family="Liberation Serif, Times New Roman, serif" font-weight="bold" font-size="82" text-anchor="start">(d)</text>
<line x1="1779.4" y1="342.8" x2="670" y2="185.5" stroke="#009a26" stroke-width="7.5"/>
<polygon points="676,174.5 636,181.3 674,197.5" fill="#009a26" stroke="#009a26" stroke-width="3" stroke-linejoin="round"/>
<line x1="1527.7" y1="481.5" x2="1165" y2="416.5" stroke="#0000ff" stroke-width="6"/>
<polygon points="1171,407.5 1135.5,411.2 1167,425.5" fill="#0000ff" stroke="#0000ff" stroke-width="3" stroke-linejoin="round"/>
<line x1="1551" y1="459" x2="1637" y2="459" stroke="#000000" stroke-width="4" stroke-dasharray="15.9 15.9" stroke-dashoffset="-2"/>
<line x1="1553" y1="457" x2="1553" y2="1011" stroke="#000000" stroke-width="4" stroke-dasharray="15.9 15.9" stroke-dashoffset="-2"/>
<line x1="1637" y1="459" x2="1637" y2="1011" stroke="#000000" stroke-width="4" stroke-dasharray="15.9 15.9" stroke-dashoffset="20.7"/>
<line x1="1639" y1="1011" x2="1553" y2="1011" stroke="#000000" stroke-width="4" stroke-dasharray="15.9 15.9" stroke-dashoffset="-2"/>
<line x1="1789" y1="317" x2="1921" y2="317" stroke="#009a26" stroke-width="4" stroke-dasharray="15.9 15.9" stroke-dashoffset="25.8"/>
<line x1="1789" y1="317" x2="1789" y2="1283" stroke="#009a26" stroke-width="4" stroke-dasharray="15.9 15.9" stroke-dashoffset="20.6"/>
<line x1="1922" y1="317" x2="1922" y2="1294" stroke="#009a26" stroke-width="4" stroke-dasharray="15.9 15.9" stroke-dashoffset="26.6"/>
<line x1="1922" y1="1292" x2="1795" y2="1292" stroke="#009a26" stroke-width="4" stroke-dasharray="15.9 15.9" stroke-dashoffset="0"/>
<line x1="1789" y1="1282" x2="1795" y2="1291" stroke="#009a26" stroke-width="4"/>
<line x1="1368.0" y1="1014.0" x2="1368.0" y2="1114.9" stroke="#000000" stroke-width="7.5" stroke-linecap="butt"/><polygon points="1356.3,1112.9 1368.0,1150.8 1379.7,1112.9" fill="#000000" stroke="#000000" stroke-width="2.5" stroke-linejoin="round"/>
<line x1="1468.4" y1="1005.8" x2="1468.4" y2="1108.0" stroke="#000000" stroke-width="7.5" stroke-linecap="butt"/><polygon points="1456.9,1106.0 1468.4,1144.0 1479.9,1106.0" fill="#000000" stroke="#000000" stroke-width="2.5" stroke-linejoin="round"/>
<line x1="1582.5" y1="1017.9" x2="1582.5" y2="1118.8" stroke="#000000" stroke-width="7.5" stroke-linecap="butt"/><polygon points="1571.3,1116.8 1582.5,1155.7 1593.7,1116.8" fill="#000000" stroke="#000000" stroke-width="2.5" stroke-linejoin="round"/>
<line x1="1734.0" y1="1020.0" x2="1734.0" y2="1120.7" stroke="#000000" stroke-width="7.5" stroke-linecap="butt"/><polygon points="1722.0,1118.7 1734.0,1156.6 1746.0,1118.7" fill="#000000" stroke="#000000" stroke-width="2.5" stroke-linejoin="round"/>
<line x1="1824.5" y1="1029.2" x2="1824.5" y2="1129.5" stroke="#000000" stroke-width="7.5" stroke-linecap="butt"/><polygon points="1813.1,1127.5 1824.5,1166.4 1835.9,1127.5" fill="#000000" stroke="#000000" stroke-width="2.5" stroke-linejoin="round"/>
<line x1="1862.8" y1="1011.0" x2="1875.2" y2="1115.0" stroke="#000000" stroke-width="7.5" stroke-linecap="butt"/><polygon points="1863.7,1114.4 1879.3,1149.8 1886.2,1111.7" fill="#000000" stroke="#000000" stroke-width="2.5" stroke-linejoin="round"/>
<text transform="translate(1393.2,1309.4) rotate(-90) scale(1.027,1)" font-family="Liberation Serif, Times New Roman, serif" font-weight="bold" font-size="71" text-anchor="start">1114</text>
<text transform="translate(1495.8,1302.3) rotate(-90) scale(0.978,1)" font-family="Liberation Serif, Times New Roman, serif" font-weight="bold" font-size="71" text-anchor="start">1000</text>
<text transform="translate(1613.7,1267.7) rotate(-90) scale(0.977,1)" font-family="Liberation Serif, Times New Roman, serif" font-weight="bold" font-size="71" text-anchor="start">867</text>
<text transform="translate(1761.6,1270.2) rotate(-90) scale(0.964,1)" font-family="Liberation Serif, Times New Roman, serif" font-weight="bold" font-size="71" text-anchor="start">671</text>
<text transform="translate(1852.1,1284.4) rotate(-90) scale(0.982,1)" font-family="Liberation Serif, Times New Roman, serif" font-weight="bold" font-size="71" text-anchor="start">568</text>
<text transform="translate(1910.1,1274.6) rotate(-90) scale(0.991,1)" font-family="Liberation Serif, Times New Roman, serif" font-weight="bold" font-size="71" text-anchor="start">555</text>
<line x1="1456.6" y1="1005.1" x2="845" y2="1246.1" stroke="#ff00ff" stroke-width="6.6"/>
<polygon points="843.5,1236 815.5,1256 851,1252.5" fill="#ff00ff" stroke="#ff00ff" stroke-width="3" stroke-linejoin="round"/>
</svg></body></html>
